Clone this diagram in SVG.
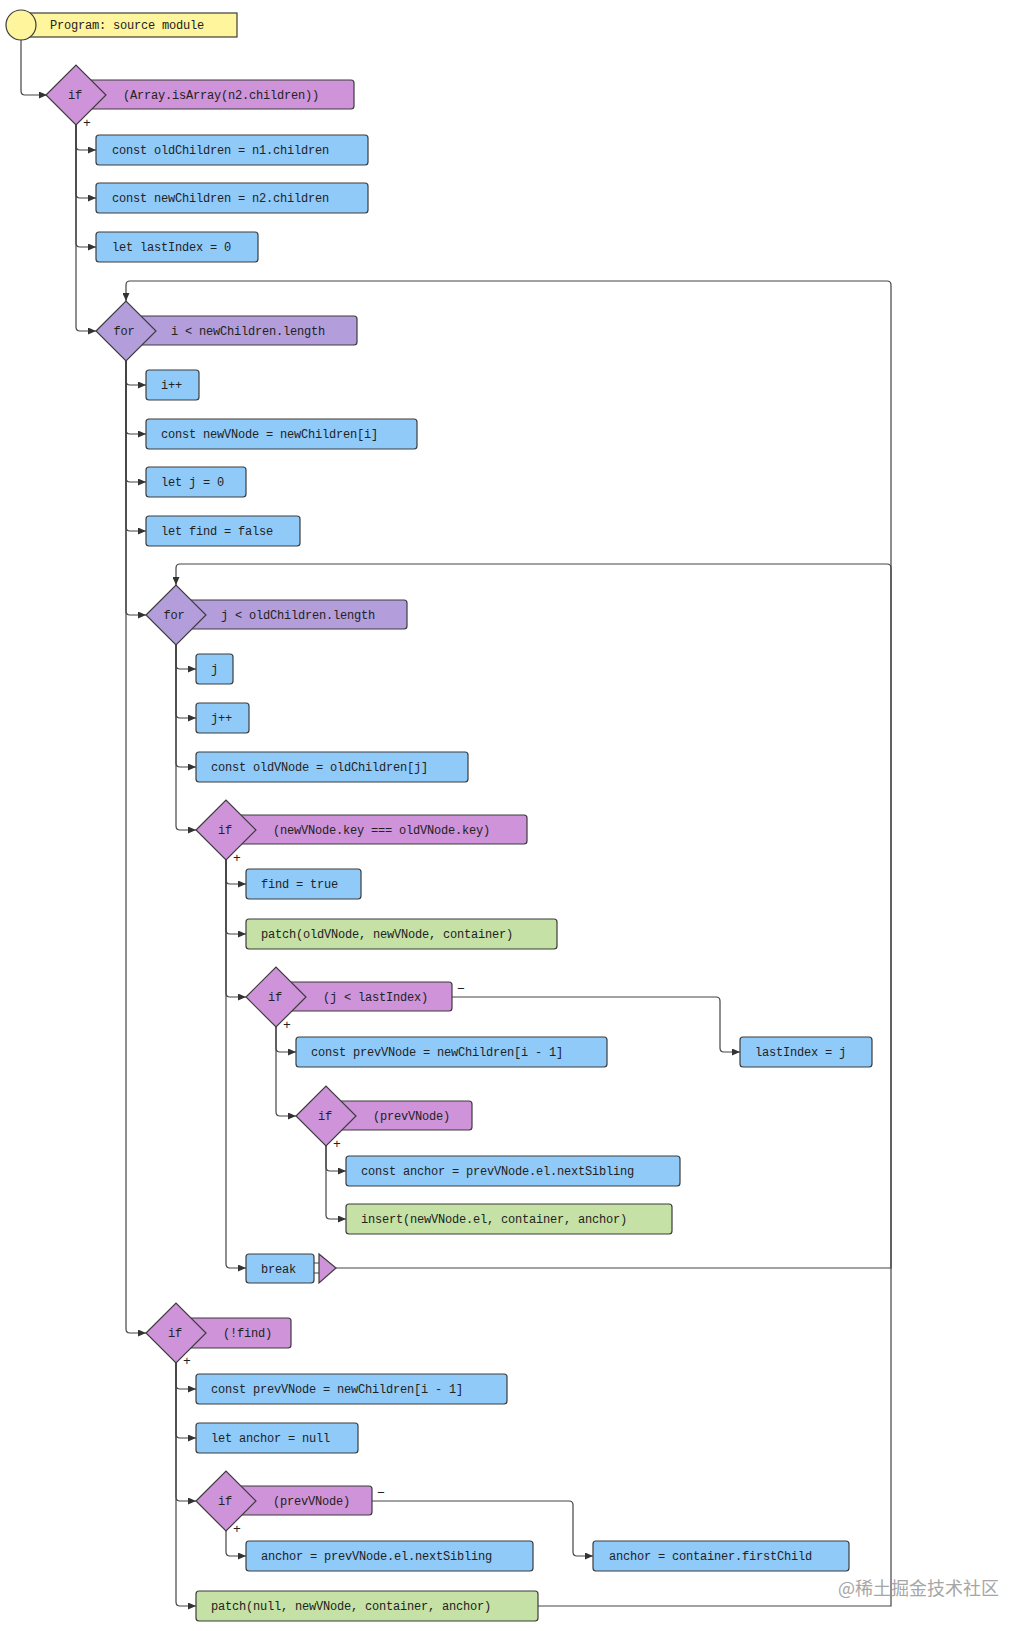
<svg xmlns="http://www.w3.org/2000/svg" width="1031" height="1631" viewBox="0 0 1031 1631">
<defs>
<style>
text{font-family:"Liberation Mono","DejaVu Sans Mono",monospace;font-size:12px;fill:#222;letter-spacing:-0.2px}
.c{text-anchor:middle}
.sign{font-size:13px}
.n{stroke:#3c3c3c;stroke-width:1.2}
.blue{fill:#90caf9}
.green{fill:#c5e1a5}
.ifc{fill:#ce93d8}
.forc{fill:#b39ddb}
.start{fill:#fff59d}
.ln{fill:none;stroke:#444;stroke-width:1.2}
.wm{font-family:"Noto Sans CJK SC","Noto Sans",sans-serif;font-size:18px;fill:#a6a6a6;letter-spacing:0}
</style>
<marker id="ar" viewBox="0 0 8 7" refX="8" refY="3.5" markerWidth="8" markerHeight="7" markerUnits="userSpaceOnUse" orient="auto">
<path d="M0,0 L8,3.5 L0,7 z" fill="#333"/>
</marker>
</defs>
<rect width="1031" height="1631" fill="#fff"/>

<g id="connectors">
<path class="ln" d="M21,39 V91 Q21,95 25,95 H47" marker-end="url(#ar)"/>
<path class="ln" d="M76,125 V146 Q76,150 80,150 H96" marker-end="url(#ar)"/>
<path class="ln" d="M76,125 V194 Q76,198 80,198 H96" marker-end="url(#ar)"/>
<path class="ln" d="M76,125 V243 Q76,247 80,247 H96" marker-end="url(#ar)"/>
<path class="ln" d="M76,125 V327 Q76,331 80,331 H96" marker-end="url(#ar)"/>
<path class="ln" d="M126,361 V381 Q126,385 130,385 H146" marker-end="url(#ar)"/>
<path class="ln" d="M126,361 V430 Q126,434 130,434 H146" marker-end="url(#ar)"/>
<path class="ln" d="M126,361 V478 Q126,482 130,482 H146" marker-end="url(#ar)"/>
<path class="ln" d="M126,361 V527 Q126,531 130,531 H146" marker-end="url(#ar)"/>
<path class="ln" d="M126,361 V611 Q126,615 130,615 H146" marker-end="url(#ar)"/>
<path class="ln" d="M126,361 V1329 Q126,1333 130,1333 H146" marker-end="url(#ar)"/>
<path class="ln" d="M176,645 V665 Q176,669 180,669 H196" marker-end="url(#ar)"/>
<path class="ln" d="M176,645 V714 Q176,718 180,718 H196" marker-end="url(#ar)"/>
<path class="ln" d="M176,645 V763 Q176,767 180,767 H196" marker-end="url(#ar)"/>
<path class="ln" d="M176,645 V826 Q176,830 180,830 H196" marker-end="url(#ar)"/>
<path class="ln" d="M226,860 V880 Q226,884 230,884 H246" marker-end="url(#ar)"/>
<path class="ln" d="M226,860 V930 Q226,934 230,934 H246" marker-end="url(#ar)"/>
<path class="ln" d="M226,860 V993 Q226,997 230,997 H246" marker-end="url(#ar)"/>
<path class="ln" d="M226,860 V1264 Q226,1268 230,1268 H246" marker-end="url(#ar)"/>
<path class="ln" d="M276,1027 V1048 Q276,1052 280,1052 H296" marker-end="url(#ar)"/>
<path class="ln" d="M276,1027 V1112 Q276,1116 280,1116 H296" marker-end="url(#ar)"/>
<path class="ln" d="M452,997 H716 Q720,997 720,1001 V1048 Q720,1052 724,1052 H740" marker-end="url(#ar)"/>
<path class="ln" d="M326,1146 V1167 Q326,1171 330,1171 H346" marker-end="url(#ar)"/>
<path class="ln" d="M326,1146 V1215 Q326,1219 330,1219 H346" marker-end="url(#ar)"/>
<path class="ln" d="M176,1363 V1385 Q176,1389 180,1389 H196" marker-end="url(#ar)"/>
<path class="ln" d="M176,1363 V1434 Q176,1438 180,1438 H196" marker-end="url(#ar)"/>
<path class="ln" d="M176,1363 V1497 Q176,1501 180,1501 H196" marker-end="url(#ar)"/>
<path class="ln" d="M176,1363 V1602 Q176,1606 180,1606 H196" marker-end="url(#ar)"/>
<path class="ln" d="M226,1531 V1552 Q226,1556 230,1556 H246" marker-end="url(#ar)"/>
<path class="ln" d="M372,1501 H569 Q573,1501 573,1505 V1552 Q573,1556 577,1556 H593" marker-end="url(#ar)"/>
<path class="ln" d="M538,1606 H891 V285 Q891,281 887,281 H130 Q126,281 126,285 V301" marker-end="url(#ar)"/>
<path class="ln" d="M336,1268 H891 V568 Q891,564 887,564 H180 Q176,564 176,568 V585" marker-end="url(#ar)"/>
<path class="ln" d="M314,1263 H319 M314,1273 H319"/>
</g>

<g id="start">
<rect class="n start" x="21" y="13" width="216" height="24"/>
<circle class="n start" cx="21" cy="25" r="15"/>
<text x="50" y="29">Program: source module</text>
</g>

<g id="if1">
<rect class="n ifc" x="76" y="80" width="278" height="29" rx="3"/>
<polygon class="n ifc" points="46,95 76,65 106,95 76,125"/>
<text class="c" x="75" y="99">if</text>
<text x="123" y="99">(Array.isArray(n2.children))</text>
<text class="sign" x="83" y="127">+</text>
</g>

<g id="n_oldChildren">
<rect class="n blue" x="96" y="135" width="272" height="30" rx="3"/>
<text x="112" y="154">const oldChildren = n1.children</text>
</g>
<g id="n_newChildren">
<rect class="n blue" x="96" y="183" width="272" height="30" rx="3"/>
<text x="112" y="202">const newChildren = n2.children</text>
</g>
<g id="n_lastIndex">
<rect class="n blue" x="96" y="232" width="162" height="30" rx="3"/>
<text x="112" y="251">let lastIndex = 0</text>
</g>

<g id="for1">
<rect class="n forc" x="126" y="316" width="231" height="29" rx="3"/>
<polygon class="n forc" points="96,331 126,301 156,331 126,361"/>
<text class="c" x="124" y="335">for</text>
<text x="171" y="335">i &lt; newChildren.length</text>
</g>

<g id="n_iinc">
<rect class="n blue" x="146" y="370" width="53" height="30" rx="3"/>
<text x="161" y="389">i++</text>
</g>
<g id="n_newVNode">
<rect class="n blue" x="146" y="419" width="271" height="30" rx="3"/>
<text x="161" y="438">const newVNode = newChildren[i]</text>
</g>
<g id="n_letj">
<rect class="n blue" x="146" y="467" width="100" height="30" rx="3"/>
<text x="161" y="486">let j = 0</text>
</g>
<g id="n_find">
<rect class="n blue" x="146" y="516" width="154" height="30" rx="3"/>
<text x="161" y="535">let find = false</text>
</g>

<g id="for2">
<rect class="n forc" x="176" y="600" width="231" height="29" rx="3"/>
<polygon class="n forc" points="146,615 176,585 206,615 176,645"/>
<text class="c" x="174" y="619">for</text>
<text x="221" y="619">j &lt; oldChildren.length</text>
</g>

<g id="n_j">
<rect class="n blue" x="196" y="654" width="37" height="30" rx="3"/>
<text x="211" y="673">j</text>
</g>
<g id="n_jinc">
<rect class="n blue" x="196" y="703" width="53" height="30" rx="3"/>
<text x="211" y="722">j++</text>
</g>
<g id="n_oldVNode">
<rect class="n blue" x="196" y="752" width="272" height="30" rx="3"/>
<text x="211" y="771">const oldVNode = oldChildren[j]</text>
</g>

<g id="if2">
<rect class="n ifc" x="226" y="815" width="301" height="29" rx="3"/>
<polygon class="n ifc" points="196,830 226,800 256,830 226,860"/>
<text class="c" x="225" y="834">if</text>
<text x="273" y="834">(newVNode.key === oldVNode.key)</text>
<text class="sign" x="233" y="862">+</text>
</g>

<g id="n_findtrue">
<rect class="n blue" x="246" y="869" width="115" height="30" rx="3"/>
<text x="261" y="888">find = true</text>
</g>
<g id="n_patch1">
<rect class="n green" x="246" y="919" width="311" height="30" rx="3"/>
<text x="261" y="938">patch(oldVNode, newVNode, container)</text>
</g>

<g id="if3">
<rect class="n ifc" x="276" y="982" width="176" height="29" rx="3"/>
<polygon class="n ifc" points="246,997 276,967 306,997 276,1027"/>
<text class="c" x="275" y="1001">if</text>
<text x="323" y="1001">(j &lt; lastIndex)</text>
<text class="sign" x="283" y="1029">+</text>
<text class="sign" x="457" y="993">−</text>
</g>

<g id="n_prev1">
<rect class="n blue" x="296" y="1037" width="311" height="30" rx="3"/>
<text x="311" y="1056">const prevVNode = newChildren[i - 1]</text>
</g>
<g id="n_lastIndexj">
<rect class="n blue" x="740" y="1037" width="132" height="30" rx="3"/>
<text x="755" y="1056">lastIndex = j</text>
</g>

<g id="if4">
<rect class="n ifc" x="326" y="1101" width="146" height="29" rx="3"/>
<polygon class="n ifc" points="296,1116 326,1086 356,1116 326,1146"/>
<text class="c" x="325" y="1120">if</text>
<text x="373" y="1120">(prevVNode)</text>
<text class="sign" x="333" y="1148">+</text>
</g>

<g id="n_anchor1">
<rect class="n blue" x="346" y="1156" width="334" height="30" rx="3"/>
<text x="361" y="1175">const anchor = prevVNode.el.nextSibling</text>
</g>
<g id="n_insert">
<rect class="n green" x="346" y="1204" width="326" height="30" rx="3"/>
<text x="361" y="1223">insert(newVNode.el, container, anchor)</text>
</g>

<g id="n_break">
<rect class="n blue" x="246" y="1254" width="68" height="29" rx="3"/>
<text x="261" y="1273">break</text>
<polygon class="n ifc" points="319,1254 336,1268 319,1283"/>
</g>

<g id="if5">
<rect class="n ifc" x="176" y="1318" width="115" height="30" rx="3"/>
<polygon class="n ifc" points="146,1333 176,1303 206,1333 176,1363"/>
<text class="c" x="175" y="1337">if</text>
<text x="223" y="1337">(!find)</text>
<text class="sign" x="183" y="1365">+</text>
</g>

<g id="n_prev2">
<rect class="n blue" x="196" y="1374" width="311" height="30" rx="3"/>
<text x="211" y="1393">const prevVNode = newChildren[i - 1]</text>
</g>
<g id="n_anchornull">
<rect class="n blue" x="196" y="1423" width="162" height="30" rx="3"/>
<text x="211" y="1442">let anchor = null</text>
</g>

<g id="if6">
<rect class="n ifc" x="226" y="1486" width="146" height="29" rx="3"/>
<polygon class="n ifc" points="196,1501 226,1471 256,1501 226,1531"/>
<text class="c" x="225" y="1505">if</text>
<text x="273" y="1505">(prevVNode)</text>
<text class="sign" x="233" y="1533">+</text>
<text class="sign" x="377" y="1497">−</text>
</g>

<g id="n_anchor2">
<rect class="n blue" x="246" y="1541" width="287" height="30" rx="3"/>
<text x="261" y="1560">anchor = prevVNode.el.nextSibling</text>
</g>
<g id="n_anchor3">
<rect class="n blue" x="593" y="1541" width="256" height="30" rx="3"/>
<text x="609" y="1560">anchor = container.firstChild</text>
</g>
<g id="n_patch2">
<rect class="n green" x="196" y="1591" width="342" height="30" rx="3"/>
<text x="211" y="1610">patch(null, newVNode, container, anchor)</text>
</g>

<text class="wm" x="838" y="1595">@稀土掘金技术社区</text>
</svg>
